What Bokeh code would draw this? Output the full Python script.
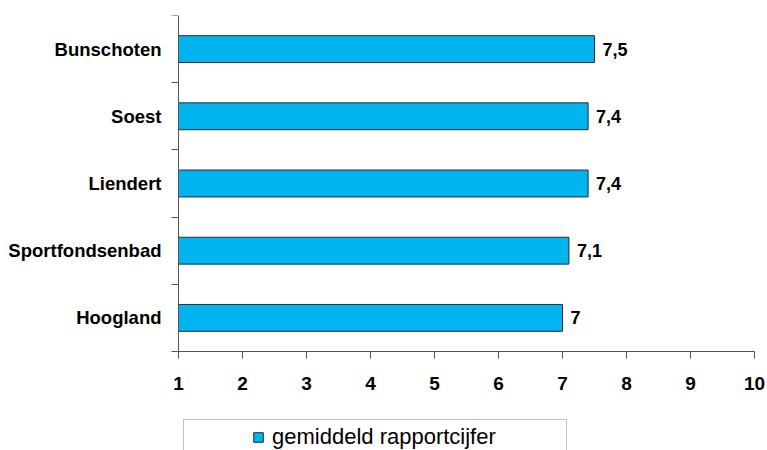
from bokeh.plotting import figure
from bokeh.models import (ColumnDataSource, Range1d, FixedTicker, Legend, LegendItem)
from bokeh.core.properties import value
from bokeh.embed import file_html
from bokeh.resources import INLINE

# data (bottom to top, as in the source chart)
categories = ["Hoogland", "Sportfondsenbad", "Liendert", "Soest", "Bunschoten"]
scores = [7.0, 7.1, 7.4, 7.4, 7.5]
x_ticks = [1, 2, 3, 4, 5, 6, 7, 8, 9, 10]
series_name = "gemiddeld rapportcijfer"

n = len(categories)
positions = [i + 0.5 for i in range(n)]
labels = [f"{v:g}".replace(".", ",") for v in scores]
x_start = x_ticks[0]

src = ColumnDataSource(dict(y=positions, v=scores, lab=labels, cat=categories,
                            x0=[x_start] * n))

FONT = "Liberation Sans"
BAR = "#00B4F0"
AXIS = "#555555"

# layout: the plotting frame spans the whole picture so that the axis labels
# and the legend box (below the x axis) are all drawn inside it
FRAME_L, FRAME_T, FRAME_W, FRAME_H = 6, 15, 761, 440
PX_X = 64.0          # pixels per x unit
PX_Y = 336.0 / n     # pixels per category band
AXIS_X = 178         # pixel column of the value axis origin
x_lo = x_start - (AXIS_X - FRAME_L) / PX_X
x_hi = x_lo + FRAME_W / PX_X
y_lo = n - FRAME_H / PX_Y

p = figure(frame_width=FRAME_W, frame_height=FRAME_H,
           x_range=Range1d(x_lo, x_hi), y_range=Range1d(y_lo, n),
           output_backend="svg", toolbar_location=None,
           min_border_left=FRAME_L, min_border_top=FRAME_T, min_border_right=0,
           min_border_bottom=0)
p.outline_line_color = None
p.xgrid.visible = False
p.ygrid.visible = False
p.background_fill_color = "white"
p.border_fill_color = "white"

r = p.hbar(y="y", right="v", left=x_start, height=0.4, source=src,
           fill_color=BAR, line_color="#2b2b2b", line_width=1)

# value labels
p.text(x="v", y="y", text="lab", source=src, x_offset=8,
       text_baseline="middle", text_align="left",
       text_font=value(FONT), text_font_style="bold", text_font_size="18px",
       text_color="black")

# category labels
p.text(x="x0", y="y", text="cat", source=src, x_offset=-17,
       text_baseline="middle", text_align="right",
       text_font=value(FONT), text_font_style="bold", text_font_size="18.5px",
       text_color="black")

# x axis, drawn at the foot of the category bands
xa = p.xaxis[0]
xa.fixed_location = 0
xa.bounds = (x_ticks[0], x_ticks[-1])
xa.ticker = FixedTicker(ticks=x_ticks)
xa.major_tick_in = 0
xa.major_tick_out = 7
xa.minor_tick_line_color = None
xa.axis_line_color = AXIS
xa.major_tick_line_color = AXIS
xa.major_label_standoff = 18
xa.major_label_text_font = FONT
xa.major_label_text_font_style = "bold"
xa.major_label_text_font_size = "19px"
xa.major_label_text_color = "black"

# category axis line with tick marks at the band boundaries
ya = p.yaxis[0]
ya.fixed_location = x_start
ya.bounds = (0, n)
ya.ticker = FixedTicker(ticks=[], minor_ticks=list(range(n + 1)))
ya.major_tick_in = 0
ya.major_tick_out = 0
ya.minor_tick_in = 0
ya.minor_tick_out = 7
ya.major_label_standoff = 0
ya.axis_line_color = AXIS
ya.minor_tick_line_color = AXIS

legend = Legend(items=[LegendItem(label=series_name, renderers=[r])],
                location=(177, 0), padding=4, spacing=0, margin=0,
                glyph_width=12, glyph_height=12, label_standoff=8,
                label_width=290, label_height=20,
                title=" ", title_location="left", title_standoff=63,
                title_text_font_size="1px",
                border_line_color="#7f7f7f", border_line_width=1,
                background_fill_color="white", background_fill_alpha=1,
                label_text_font=FONT, label_text_font_size="22px",
                label_text_color="black")
p.add_layout(legend, "center")

open("out.html", "w").write(file_html(p, INLINE))
